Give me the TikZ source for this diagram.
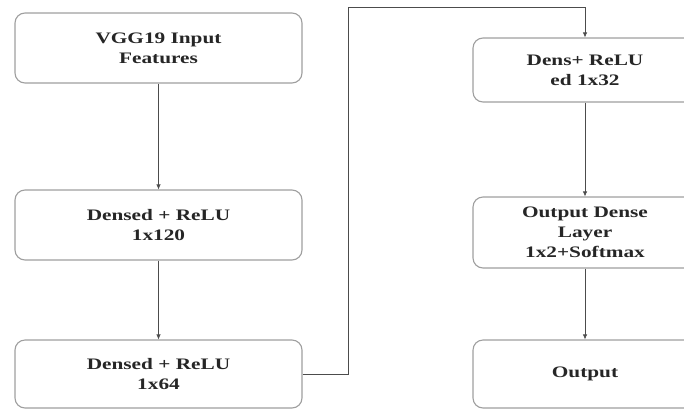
\documentclass[tikz,border=0pt]{standalone}
\usepackage{fontspec}
\setmainfont{Liberation Serif}[FakeStretch=1.33]
\usepackage{tikz}
\usetikzlibrary{arrows.meta,positioning}

\begin{document}
\begin{tikzpicture}[x=1pt,y=-1pt,
  layer/.style={draw=gray!75,line width=1.1pt,rounded corners=10pt,fill=white,
    align=center,font=\fontsize{16}{20}\selectfont\bfseries,text=black!85},
  arr/.style={draw=black!70,line width=0.7pt,-{Latex[length=5pt,width=4.5pt]}}]
\useasboundingbox (0,0) rectangle (684,410);
\clip (0,0) rectangle (684,410);

% Left column
\node[layer,minimum width=287pt,minimum height=70pt] (vgg) at (158.5,48) {VGG19 Input\\Features};
\node[layer,minimum width=287pt,minimum height=70pt] (d120) at (158.5,225) {Densed + ReLU\\1x120};
\node[layer,minimum width=287pt,minimum height=68pt] (d64) at (158.5,374) {Densed + ReLU\\1x64};

% Right column
\node[layer,minimum width=224pt,minimum height=64pt] (d32) at (585,70) {Dens+ ReLU\\ed 1x32};
\node[layer,minimum width=224pt,minimum height=71pt] (outdense) at (585,232.5) {Output Dense\\Layer\\1x2+Softmax};
\node[layer,minimum width=224pt,minimum height=68pt] (out) at (585,374) {Output};

% Arrows
\foreach \a/\b in {vgg/d120,d120/d64,d32/outdense,outdense/out}
  \draw[arr] (\a) -- (\b);
\coordinate (turn) at (348,7);
\draw[arr] (d64.east) -| (turn) -| (d32.north);
\end{tikzpicture}
\end{document}
